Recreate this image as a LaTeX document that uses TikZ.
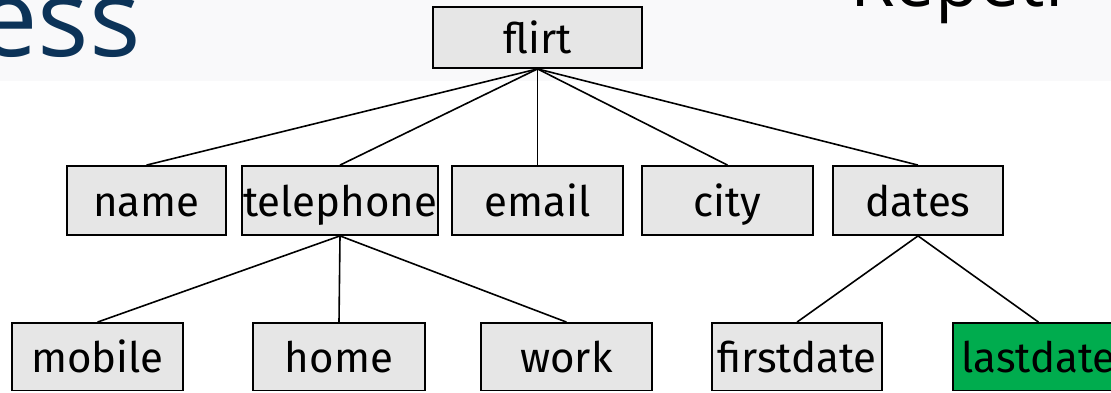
\documentclass[tikz,border=0pt]{standalone}
\usepackage{fontspec}
\setmainfont{Fira Sans}
\newfontfamily\titlefont{Open Sans}
\definecolor{boxgray}{HTML}{E6E6E6}
\definecolor{bandgray}{HTML}{F9F9FA}
\definecolor{logoblue}{HTML}{0C3358}
\definecolor{hlgreen}{HTML}{00AC4E}
\tikzset{
  treebox/.style={draw=black, line width=1.8pt, fill=boxgray, inner sep=0pt,
    font=\fontsize{42}{48}\selectfont, text height=38pt, text depth=6pt,
    minimum height=69pt},
  edge/.style={draw=black, line width=1.6pt},
}
\begin{document}
\begin{tikzpicture}[x=1pt,y=-1pt]
\useasboundingbox (0,0) rectangle (1111,392);
\fill[white] (0,0) rectangle (1111,392);
\begin{scope}
\clip (0,0) rectangle (1111,392);
\fill[bandgray] (0,0) rectangle (1111,81);
\node[anchor=base east, inner sep=0pt, text=logoblue, font=\titlefont\fontsize{108}{120}\selectfont] (logo) at (141,56) {ess};
\node[anchor=base west, inner sep=0pt, text=black, font=\titlefont\fontsize{72}{80}\selectfont] (title) at (850,6) {Repeti};

\node[treebox, minimum width=209pt, minimum height=61pt] (flirt) at (537.5,37.5) {flirt};

\node[treebox, minimum width=159pt] (name) at (146.5,200.5) {name};
\node[treebox, minimum width=196pt] (tel) at (340,200.5) {telephone};
\node[treebox, minimum width=171pt] (email) at (537.5,200.5) {email};
\node[treebox, minimum width=171pt] (city) at (727.5,200.5) {city};
\node[treebox, minimum width=170pt] (dates) at (918,200.5) {dates};

\node[treebox, minimum width=171pt, minimum height=67.5pt] (mobile) at (97.5,356.75) {mobile};
\node[treebox, minimum width=172pt, minimum height=67.5pt] (home) at (339,356.75) {home};
\node[treebox, minimum width=171pt, minimum height=67.5pt] (work) at (566.5,356.75) {work};
\node[treebox, minimum width=170pt, minimum height=67.5pt] (first) at (797,356.75) {firstdate};
\node[treebox, fill=hlgreen, minimum width=171pt, minimum height=67.5pt] (last) at (1038.5,356.75) {lastdate};

\draw[edge] (flirt.south) -- (name.north);
\draw[edge] (flirt.south) -- (tel.north);
\draw[edge] (flirt.south) -- (email.north);
\draw[edge] (flirt.south) -- (city.north);
\draw[edge] (flirt.south) -- (dates.north);
\draw[edge] (tel.south) -- (mobile.north);
\draw[edge] (tel.south) -- (home.north);
\draw[edge] (tel.south) -- (work.north);
\draw[edge] (dates.south) -- (first.north);
\draw[edge] (dates.south) -- (last.north);
\end{scope}
\end{tikzpicture}
\end{document}
